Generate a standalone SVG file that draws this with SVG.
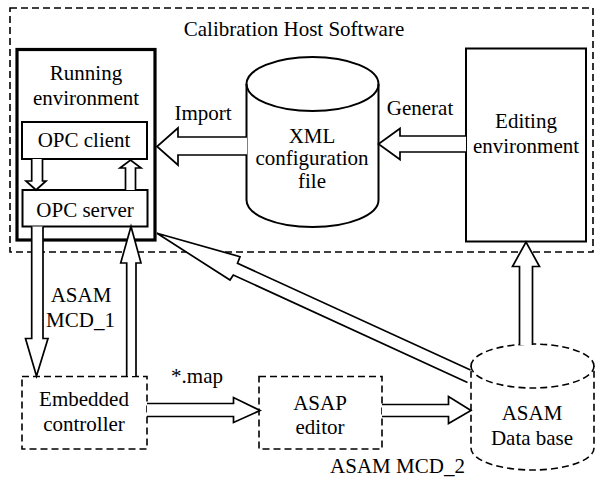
<svg xmlns="http://www.w3.org/2000/svg" width="595" height="479" viewBox="0 0 595 479">
  <style>
    text { font-family: "Liberation Serif", "Times New Roman", serif; font-size: 21px; fill: #000; text-anchor: middle; }
    .solid { fill: #fff; stroke: #000; stroke-width: 2; }
    .dash { fill: none; stroke: #000; stroke-width: 1.6; stroke-dasharray: 7 4; }
    .dashfill { fill: #fff; stroke: #000; stroke-width: 1.6; stroke-dasharray: 7 4; }
    .arrow { fill: #fff; stroke: #000; stroke-width: 1.7; stroke-linejoin: miter; }
  </style>
  <rect width="595" height="479" fill="#fff"/>

  <!-- host software boundary -->
  <g id="host">
    <rect class="dash" x="10" y="8" width="583" height="244"/>
    <text x="294" y="36">Calibration Host Software</text>
  </g>

  <g id="running">
    <rect x="17" y="49.5" width="138" height="190.5" fill="#fff" stroke="#000" stroke-width="3.2"/>
    <text x="86" y="80">Running</text>
    <text x="86" y="105">environment</text>
  </g>

  <g id="opc-client">
    <rect class="solid" x="22" y="122" width="125" height="37"/>
    <text x="84" y="147">OPC client</text>
  </g>

  <g id="opc-server">
    <rect class="solid" x="22.5" y="190" width="125" height="36.5"/>
    <text x="85" y="216.5">OPC server</text>
  </g>

  <g id="xml-file">
    <path class="solid" d="M246.5,84 A66,27 0 0,1 378.5,84 L378.5,200 A66,27 0 0,1 246.5,200 Z"/>
    <path fill="none" stroke="#000" stroke-width="2" d="M246.5,84 A66,27 0 0,0 378.5,84"/>
    <text x="312" y="142.5">XML</text>
    <text x="312" y="165">configuration</text>
    <text x="312" y="188">file</text>
  </g>

  <g id="editing">
    <rect class="solid" x="466" y="48.5" width="120" height="193"/>
    <text x="526" y="128">Editing</text>
    <text x="526" y="153">environment</text>
  </g>

  <g id="controller">
    <rect class="dashfill" x="22" y="376.5" width="125" height="72.5"/>
    <text x="84" y="406">Embedded</text>
    <text x="84" y="430.5">controller</text>
  </g>

  <g id="asap-editor">
    <rect class="dashfill" x="259" y="376.5" width="123" height="72.5"/>
    <text x="320" y="410">ASAP</text>
    <text x="320" y="433.5">editor</text>
  </g>

  <g id="database">
    <path class="dashfill" d="M471,366 A61.5,22 0 0,1 594,366 L594,448 A61.5,22 0 0,1 471,448 Z"/>
    <path class="dash" d="M471,366 A61.5,22 0 0,0 594,366"/>
    <text x="532" y="420">ASAM</text>
    <text x="532" y="445">Data base</text>
  </g>

  <!-- hollow block arrows -->
  <g id="connectors">
    <path class="arrow" d="M247,137 L178,137 L178,128 L157,146.5 L178,165 L178,155 L247,155"/>
    <path class="arrow" d="M466,136 L400,136 L400,128.5 L378.5,144 L400,159.5 L400,152 L466,152"/>
    <path class="arrow" d="M31.7,159 L31.7,181 L26,181 L36,190 L46,181 L42.5,181 L42.5,159"/>
    <path class="arrow" d="M125.5,190 L125.5,168 L120,168 L130.5,160 L141,168 L135.5,168 L135.5,190"/>
    <path class="arrow" d="M31.7,226.5 L31.7,338.5 L25.5,338.5 L36.5,376 L48,338.5 L43,338.5 L43,226.5"/>
    <path class="arrow" d="M126.7,376 L126.7,263 L120.7,263 L131,226.5 L141,263 L136,263 L136,376"/>
    <path class="arrow" d="M147,403.5 L233.5,403.5 L233.5,397.5 L260,410.5 L233.5,422.5 L233.5,416.5 L147,416.5"/>
    <path class="arrow" d="M382,404.5 L448.5,404.5 L448.5,396.5 L471,410.5 L448.5,423.5 L448.5,416.5 L382,416.5"/>
    <path class="arrow" d="M519.5,345 L519.5,266.5 L512.5,266.5 L526,242 L539.5,266.5 L532.5,266.5 L532.5,345"/>
    <path class="arrow" d="M470.5,370 L237.5,263.3 L240,256.7 L157,233.3 L230,280 L233.3,275 L467.5,382.5"/>
    <text x="203" y="120">Import</text>
    <text x="420" y="115">Generat</text>
    <text x="81" y="301.5">ASAM</text>
    <text x="80.5" y="326.5">MCD_1</text>
    <text x="197" y="383">*.map</text>
    <text x="397.5" y="473">ASAM MCD_2</text>
  </g>
</svg>
